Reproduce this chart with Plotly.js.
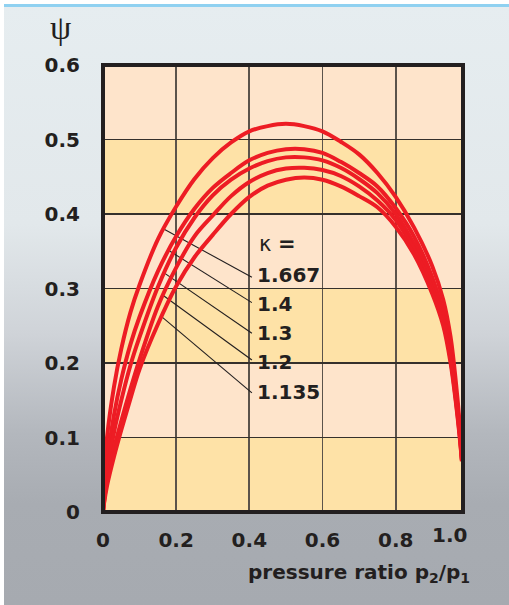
<!DOCTYPE html>
<html>
<head>
<meta charset="utf-8">
<script src="https://cdn.plot.ly/plotly-3.0.1.min.js"></script>
<style>
html,body{margin:0;padding:0;background:#ffffff;}
#bg{position:absolute;left:4px;top:4px;width:505px;height:601px;
 background:linear-gradient(to bottom,#e6edf0 0px,#e2e8eb 220px,#cfd3d8 330px,#b3b7bd 430px,#a8acb2 500px,#a6aab0 601px);}
#bar{position:absolute;left:4px;top:4px;width:505px;height:3px;background:#8fd1f1;}
#chart{position:absolute;left:0;top:0;width:509px;height:605px;}
</style>
</head>
<body>
<div id="bg"></div><div id="bar"></div><div id="chart"></div>
<script>
// pressure ratio p2/p1 (x values)
const pressureRatio = [0, 0.003, 0.011, 0.03, 0.05, 0.075, 0.1, 0.15, 0.2, 0.25, 0.3, 0.35, 0.4, 0.45, 0.5, 0.55, 0.6, 0.65, 0.7, 0.75, 0.8, 0.85, 0.9, 0.93, 0.95, 0.965, 0.975, 0.981];
// outflow function psi for each kappa
const psi_k1667 = [0, 0.046, 0.1, 0.168, 0.219, 0.268, 0.305, 0.366, 0.41, 0.447, 0.475, 0.496, 0.511, 0.518, 0.521, 0.518, 0.511, 0.497, 0.48, 0.455, 0.423, 0.382, 0.33, 0.285, 0.235, 0.172, 0.118, 0.075];
const psi_k14   = [0, 0.025, 0.065, 0.13, 0.178, 0.225, 0.262, 0.323, 0.37, 0.407, 0.435, 0.455, 0.472, 0.482, 0.487, 0.487, 0.482, 0.47, 0.455, 0.437, 0.408, 0.37, 0.315, 0.268, 0.216, 0.158, 0.11, 0.072];
const psi_k13   = [0, 0.018, 0.052, 0.107, 0.15, 0.197, 0.235, 0.302, 0.355, 0.395, 0.425, 0.446, 0.461, 0.471, 0.476, 0.476, 0.472, 0.462, 0.447, 0.428, 0.40, 0.36, 0.308, 0.262, 0.21, 0.152, 0.106, 0.07];
const psi_k12   = [0, 0.014, 0.042, 0.085, 0.122, 0.165, 0.205, 0.276, 0.328, 0.37, 0.398, 0.424, 0.443, 0.455, 0.461, 0.462, 0.459, 0.451, 0.437, 0.418, 0.392, 0.353, 0.30, 0.257, 0.205, 0.148, 0.103, 0.069];
const psi_k1135 = [0, 0.012, 0.035, 0.074, 0.11, 0.152, 0.192, 0.252, 0.303, 0.342, 0.372, 0.40, 0.423, 0.438, 0.446, 0.449, 0.446, 0.437, 0.424, 0.409, 0.383, 0.346, 0.293, 0.25, 0.20, 0.145, 0.10, 0.068];

const kappaLabels = ['1.667', '1.4', '1.3', '1.2', '1.135'];
// leader lines: start on curve, end at label
const leaderStartX = [0.166, 0.18, 0.167, 0.161, 0.161];
const leaderStartY = [0.38, 0.351, 0.321, 0.292, 0.262];
const leaderEndX = [0.407, 0.407, 0.407, 0.407, 0.407];
const leaderEndY = [0.315, 0.281, 0.240, 0.204, 0.160];
const labelY = [0.318, 0.279, 0.240, 0.201, 0.161];

const xTickVals = [0, 0.2, 0.4, 0.6, 0.8];
const xTickText = ['0', '0.2', '0.4', '0.6', '0.8'];
const lastXTickText = '1.0';
const yTickVals = [0, 0.1, 0.2, 0.3, 0.4, 0.5, 0.6];
const yTickText = ['0', '0.1', '0.2', '0.3', '0.4', '0.5', '0.6'];

const X_MAX = 0.984;
const RED = '#ed1c24';
const INK = '#231f20';
const FONT = 'DejaVu Sans';

const traces = [];
for (let i = 0; i < kappaLabels.length; i++) {
  traces.push({
    x: [leaderStartX[i], leaderEndX[i]],
    y: [leaderStartY[i], leaderEndY[i]],
    mode: 'lines', line: {color: INK, width: 1.1},
    hoverinfo: 'skip', showlegend: false
  });
}
[psi_k1667, psi_k14, psi_k13, psi_k12, psi_k1135].forEach((ys, i) => {
  traces.push({
    x: pressureRatio, y: ys, name: 'κ = ' + kappaLabels[i],
    mode: 'lines', line: {color: RED, width: 4, shape: 'spline', smoothing: 1},
    hoverinfo: 'skip', showlegend: false
  });
});

const bandPeach = '#fee4cb';
const bandYellow = '#fee2a7';
const shapes = [];
for (let i = 0; i < yTickVals.length - 1; i++) {
  shapes.push({
    type: 'rect', xref: 'x', yref: 'y', x0: 0, x1: X_MAX,
    y0: yTickVals[i], y1: yTickVals[i + 1],
    fillcolor: (i % 2 === 0) ? bandYellow : bandPeach,
    line: {width: 0}, layer: 'below'
  });
}
shapes.push({
  type: 'rect', xref: 'paper', yref: 'paper', x0: 0, x1: 1, y0: 0, y1: 1,
  line: {color: INK, width: 4}, fillcolor: 'rgba(0,0,0,0)', layer: 'above'
});

const annotations = [];
annotations.push({
  xref: 'paper', yref: 'paper', x: -0.119, y: 1.085, xanchor: 'center', yanchor: 'middle',
  text: 'ψ', showarrow: false, font: {family: 'Liberation Serif', size: 34, color: INK}
});
annotations.push({
  xref: 'x', yref: 'y', x: 0.422, y: 0.36, xanchor: 'left', yanchor: 'middle',
  text: 'κ <b>=</b>', showarrow: false, font: {family: FONT, size: 21, color: INK}
});
for (let i = 0; i < kappaLabels.length; i++) {
  annotations.push({
    xref: 'x', yref: 'y', x: 0.416, y: labelY[i], xanchor: 'left', yanchor: 'middle',
    text: '<b>' + kappaLabels[i] + '</b>', showarrow: false,
    font: {family: FONT, size: 20, color: INK}
  });
}
annotations.push({
  xref: 'x', yref: 'paper', x: 0.948, y: -0.051, xanchor: 'center', yanchor: 'middle',
  text: '<b>' + lastXTickText + '</b>', showarrow: false,
  font: {family: FONT, size: 20, color: INK}
});
annotations.push({
  xref: 'paper', yref: 'paper', x: 1.025, y: -0.136, xanchor: 'right', yanchor: 'middle',
  text: '<b>pressure ratio p<sub>2</sub>/p<sub>1</sub></b>', showarrow: false,
  font: {family: FONT, size: 20, color: INK}
});

const layout = {
  width: 509, height: 605,
  margin: {l: 103, r: 46, t: 65, b: 93, pad: 0},
  paper_bgcolor: 'rgba(0,0,0,0)', plot_bgcolor: 'rgba(0,0,0,0)',
  showlegend: false,
  xaxis: {
    range: [0, X_MAX], tickmode: 'array', tickvals: xTickVals, ticktext: xTickText,
    showgrid: true, gridcolor: '#5b534b', gridwidth: 1.8, zeroline: false, showline: false,
    ticks: 'outside', ticklen: 10, tickcolor: 'rgba(0,0,0,0)',
    tickfont: {family: FONT, size: 20, color: INK, weight: 'bold'}, fixedrange: true
  },
  yaxis: {
    range: [0, 0.6], tickmode: 'array', tickvals: yTickVals, ticktext: yTickText,
    showgrid: true, gridcolor: '#35302c', gridwidth: 1.6, zeroline: false, showline: false,
    ticks: 'outside', ticklen: 18, tickcolor: 'rgba(0,0,0,0)',
    tickfont: {family: FONT, size: 20, color: INK, weight: 'bold'}, fixedrange: true
  },
  shapes: shapes,
  annotations: annotations
};

Plotly.newPlot('chart', traces, layout, {displayModeBar: false, staticPlot: true});
</script>
</body>
</html>
